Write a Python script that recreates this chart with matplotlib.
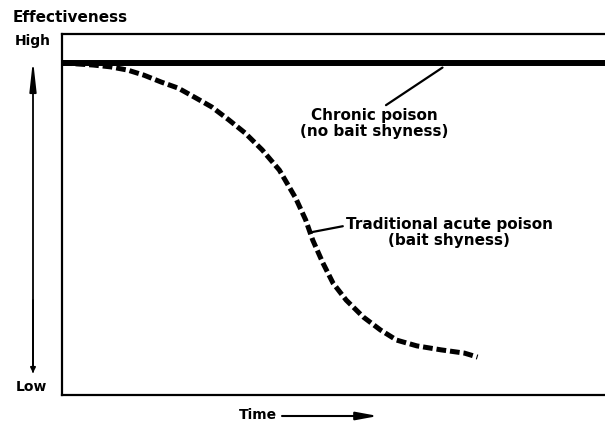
import matplotlib.pyplot as plt
from matplotlib.patches import FancyArrowPatch

plt.rcParams['lines.scale_dashes'] = False
plt.rcParams['font.family'] = 'DejaVu Sans'

# Effectiveness over time (arbitrary units, 0 = low, 1 = high)
chronic_time = [0.0, 10.0]
chronic_eff = [0.92, 0.92]

acute_time = [0.0, 0.571, 0.884, 1.197, 1.492, 1.805, 2.118, 2.413, 2.726,
              3.039, 3.333, 3.646, 3.959, 4.254, 4.438, 4.567, 4.751, 4.936,
              5.175, 5.488, 5.801, 6.096, 6.464, 6.906, 7.330, 7.569]
acute_eff = [0.920, 0.914, 0.909, 0.900, 0.886, 0.867, 0.850, 0.825, 0.798,
             0.762, 0.726, 0.679, 0.623, 0.546, 0.485, 0.429, 0.366, 0.310,
             0.263, 0.216, 0.180, 0.152, 0.136, 0.125, 0.116, 0.105]

W, H = 605, 422
fig = plt.figure(figsize=(W / 100, H / 100), dpi=100)
ax = fig.add_axes([62 / W, (H - 395) / H, (W - 62) / W + 0.01, (395 - 34) / H])
ax.set_xlim(0, 10)
ax.set_ylim(0, 1)
for side in ['left', 'bottom', 'top']:
    ax.spines[side].set_linewidth(1.6)
ax.spines['right'].set_visible(False)
ax.set_xticks([])
ax.set_yticks([])

ax.plot(chronic_time, chronic_eff, color='black', lw=4.3, solid_capstyle='butt')
ax.plot(acute_time, acute_eff, color='black', lw=3.6, dashes=(7, 2.8))

lab = dict(fontsize=11, fontweight='bold', color='black')
cap = dict(fontsize=10, fontweight='bold', color='black')

# labels for the two curves, each with a short pointer line
ax.annotate('Chronic poison\n(no bait shyness)', xy=(6.93, 0.907), xytext=(5.69, 0.752),
            ha='center', va='center', linespacing=1.1, **lab,
            arrowprops=dict(arrowstyle='-', lw=1.6, color='black',
                            shrinkA=0, shrinkB=0, relpos=(0.55, 1.0)))
ax.annotate('Traditional acute poison\n(bait shyness)', xy=(4.51, 0.45), xytext=(7.05, 0.45),
            ha='center', va='center', linespacing=1.1, **lab,
            arrowprops=dict(arrowstyle='-', lw=1.6, color='black',
                            shrinkA=0, shrinkB=0, relpos=(0.0, 0.72)))

# axis captions outside the frame
fig.text(13 / W, 1 - 17 / H, 'Effectiveness', ha='left', va='center', **lab)
fig.text(15 / W, 1 - 41 / H, 'High', ha='left', va='center', **cap)
fig.text(16 / W, 1 - 387 / H, 'Low', ha='left', va='center', **cap)
fig.text(258 / W, 1 - 415 / H, 'Time', ha='center', va='center', **cap)

# vertical effectiveness arrow (long narrow head up, small head down)
fig.patches.append(FancyArrowPatch((33 / W, 1 - 372 / H), (33 / W, 1 - 60 / H),
                                   transform=fig.transFigure,
                                   arrowstyle='-|>,head_length=18,head_width=2.0',
                                   lw=1.3, color='black', shrinkA=0, shrinkB=0))
fig.patches.append(FancyArrowPatch((33 / W, 1 - 300 / H), (33 / W, 1 - 373 / H),
                                   transform=fig.transFigure,
                                   arrowstyle='-|>,head_length=3,head_width=1.5',
                                   lw=1.3, color='black', shrinkA=0, shrinkB=0))

# time arrow
fig.patches.append(FancyArrowPatch((282 / W, 1 - 416 / H), (378 / W, 1 - 416 / H),
                                   transform=fig.transFigure,
                                   arrowstyle='-|>,head_length=13,head_width=2.4',
                                   lw=1.5, color='black', shrinkA=0, shrinkB=0))

fig.savefig('out.png', dpi=100)
